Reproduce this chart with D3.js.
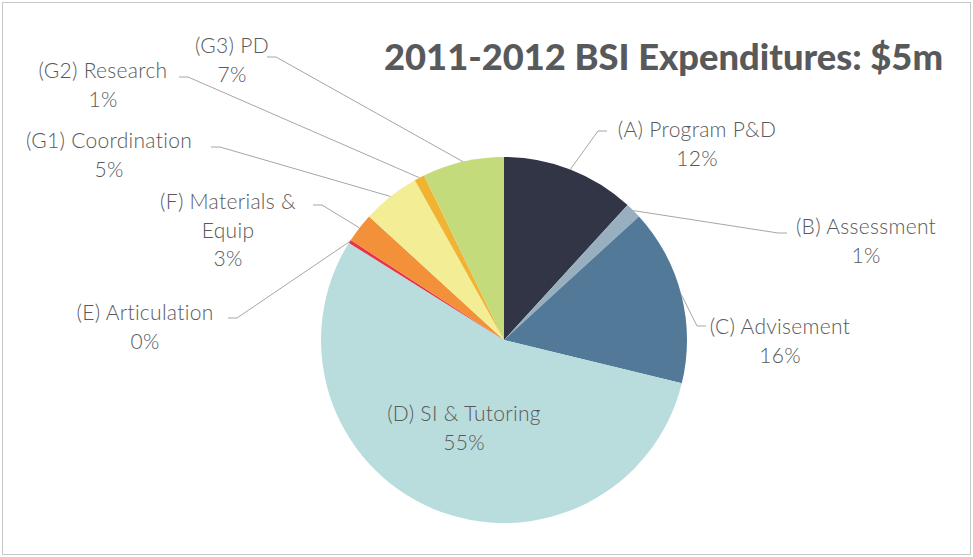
<!DOCTYPE html>
<html>
<head>
<meta charset="utf-8">
<script src="https://cdn.jsdelivr.net/npm/d3@7"></script>
<style>
  body { margin: 0; background: #fff; }
  text { font-family: Lato, "Open Sans", sans-serif; }
</style>
</head>
<body>
<script>
const WIDTH = 973;
const HEIGHT = 557;

// datos (porcentaje del gasto)
const categorias = ["(A) Program P&D", "(B) Assessment", "(C) Advisement", "(D) SI & Tutoring",
    "(E) Articulation", "(F) Materials & Equip", "(G1) Coordination", "(G2) Research", "(G3) PD"];
const valores = [11.8, 1.4, 15.6, 55.1, 0.3, 2.6, 5.1, 0.9, 7.2];
const colores = ["#323545", "#98afbf", "#527a98", "#b9dcdd", "#e8334a", "#f2913a", "#f3ee95", "#f0b432", "#c4db7b"];
// lineas de cada etiqueta
const lineasEtiqueta = [
    ["(A) Program P&D", "12%"],
    ["(B) Assessment", "1%"],
    ["(C) Advisement", "16%"],
    ["(D) SI & Tutoring", "55%"],
    ["(E) Articulation", "0%"],
    ["(F) Materials &", "Equip", "3%"],
    ["(G1) Coordination", "5%"],
    ["(G2) Research", "1%"],
    ["(G3) PD", "7%"],
];
const titulo = "2011-2012 BSI Expenditures: $5m";

const CENTRO = { x: 504, y: 340 };
const RADIO = 183;
const INTERLINEA = 28.5;
// primera linea de cada etiqueta, relativa al centro del pie (codo null = sin linea guia)
const POS_ETIQUETA = [
    { dx: 193, dy: -210, codo: [94, -209] },
    { dx: 362, dy: -113, codo: [274, -107] },
    { dx: 276, dy: -13, codo: [193, -14] },
    { dx: -40, dy: 74, codo: null },
    { dx: -359, dy: -27, codo: [-267, -22] },
    { dx: -276, dy: -138, codo: [-182, -135] },
    { dx: -395, dy: -199, codo: [-284, -193] },
    { dx: -401, dy: -269, codo: [-316, -263] },
    { dx: -272, dy: -294, codo: [-228, -283] },
];

const svg = d3.select("body")
    .append("svg")
    .attr("width", WIDTH)
    .attr("height", HEIGHT);

svg.append("rect")
    .attr("x", 2.5).attr("y", 2.5)
    .attr("width", WIDTH - 5).attr("height", HEIGHT - 5)
    .attr("fill", "#fff")
    .attr("stroke", "#c8c8c8");

svg.append("text")
    .attr("x", 943)
    .attr("y", 70)
    .attr("text-anchor", "end")
    .attr("font-size", 36)
    .attr("font-weight", 900)
    .attr("fill", "#58595b")
    .attr("textLength", 559)
    .attr("lengthAdjust", "spacingAndGlyphs")
    .text(titulo);

const datos = categorias.map((c, i) => ({ nombre: c, valor: valores[i], color: colores[i], lineas: lineasEtiqueta[i], pos: POS_ETIQUETA[i] }));

const pie = d3.pie().value((d) => d.valor).sort(null);
const arco = d3.arc().innerRadius(0).outerRadius(RADIO);
const arcoBorde = d3.arc().innerRadius(RADIO).outerRadius(RADIO);

const contenedor = svg.append("g")
    .attr("transform", `translate(${CENTRO.x} ${CENTRO.y})`);

const porciones = pie(datos);

contenedor.selectAll("path.porcion")
    .data(porciones)
    .join("path")
    .attr("class", "porcion")
    .attr("d", arco)
    .attr("fill", (d) => d.data.color);

// lineas guia
contenedor.selectAll("polyline")
    .data(porciones.filter((d) => d.data.pos.codo))
    .join("polyline")
    .attr("points", (d) => {
        const p0 = arcoBorde.centroid(d);
        const codo = d.data.pos.codo;
        const haciaDerecha = d.data.pos.dx > 0;
        const fin = [codo[0] + (haciaDerecha ? 9 : -9), codo[1]];
        return [p0, codo, fin].map((p) => p.join(",")).join(" ");
    })
    .attr("fill", "none")
    .attr("stroke", "#a6a6a6")
    .attr("stroke-width", 1);

const etiquetas = contenedor.selectAll("text.etiqueta")
    .data(porciones)
    .join("text")
    .attr("class", "etiqueta")
    .attr("text-anchor", "middle")
    .attr("font-size", 21)
    .attr("letter-spacing", 0.3)
    .attr("font-weight", 300)
    .attr("fill", "#595959");

etiquetas.each(function (d) {
    d3.select(this).selectAll("tspan")
        .data(d.data.lineas)
        .join("tspan")
        .attr("x", d.data.pos.dx)
        .attr("y", (l, i) => d.data.pos.dy + i * INTERLINEA)
        .attr("dy", "0.35em")
        .text((l) => l);
});
</script>
</body>
</html>
